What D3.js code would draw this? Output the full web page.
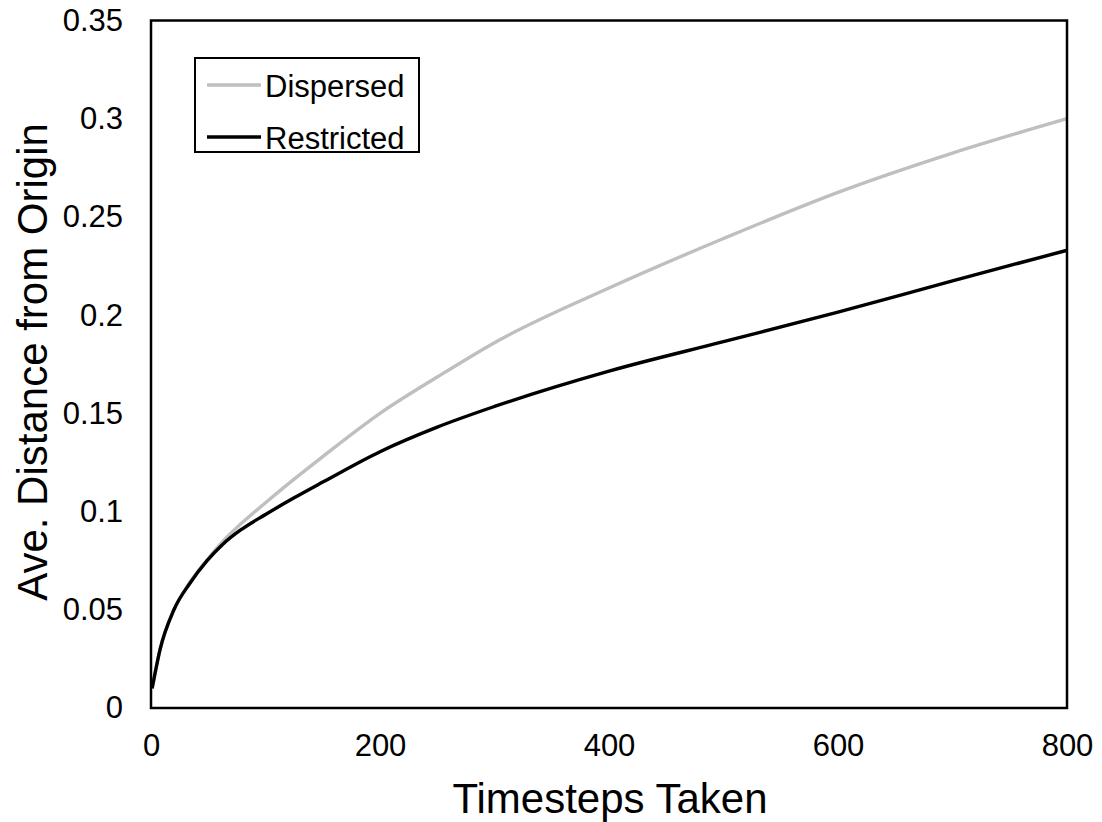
<!DOCTYPE html>
<html>
<head>
<meta charset="utf-8">
<script src="https://cdn.jsdelivr.net/npm/d3@7"></script>
<style>
  html, body { margin: 0; padding: 0; background: #fff; }
  svg { display: block; font-family: "Liberation Sans", Arial, sans-serif; }
</style>
</head>
<body>
<svg id="chart" width="1102" height="822"></svg>
<script>
// Timesteps sampled along both runs
const timesteps = [1, 8, 20, 34, 49, 63, 78, 100, 125, 150, 200, 250, 300, 400, 500, 600, 700, 800];

// Average distance from origin, dispersed population
const dispersed = [0.010, 0.030, 0.050, 0.064, 0.0755, 0.085, 0.0935, 0.1045, 0.1165, 0.128, 0.150, 0.1685, 0.186, 0.2138, 0.239, 0.2625, 0.2825, 0.300];

// Average distance from origin, restricted population
const restricted = [0.010, 0.030, 0.050, 0.0635, 0.075, 0.0835, 0.0905, 0.0985, 0.107, 0.115, 0.1305, 0.143, 0.1535, 0.1715, 0.1865, 0.2015, 0.2175, 0.233];

const xTicks = [0, 200, 400, 600, 800];
const yTicks = [0, 0.05, 0.1, 0.15, 0.2, 0.25, 0.3, 0.35];

const seriesNames = ["Dispersed", "Restricted"];
const seriesColors = ["#bfbfbf", "#000000"];

const svg = d3.select("#chart");
const plot = { left: 151, top: 20.5, right: 1067, bottom: 708 };

const x = d3.scaleLinear().domain([0, 800]).range([plot.left, plot.right]);
const y = d3.scaleLinear().domain([0, 0.35]).range([plot.bottom, plot.top]);

// Y axis tick labels
svg.append("g")
  .attr("transform", `translate(${plot.left},0)`)
  .call(d3.axisLeft(y).tickValues(yTicks).tickSize(0).tickPadding(28)
    .tickFormat(d => d === 0 ? "0" : String(+d.toFixed(2))))
  .call(g => g.select(".domain").remove())
  .selectAll("text")
  .attr("font-size", 31)
  .attr("fill", "#000")
  .attr("font-family", "Liberation Sans, Arial, sans-serif");

// X axis tick labels
svg.append("g")
  .attr("transform", `translate(0,${plot.bottom})`)
  .call(d3.axisBottom(x).tickValues(xTicks).tickSize(0).tickPadding(26).tickFormat(d3.format("d")))
  .call(g => g.select(".domain").remove())
  .selectAll("text")
  .attr("font-size", 31)
  .attr("fill", "#000")
  .attr("font-family", "Liberation Sans, Arial, sans-serif");

// Series lines
const line = d3.line().curve(d3.curveMonotoneX);
const series = [dispersed, restricted];
series.forEach((vals, i) => {
  svg.append("path")
    .attr("d", line(timesteps.map((t, j) => [x(t), y(vals[j])])))
    .attr("fill", "none")
    .attr("stroke", seriesColors[i])
    .attr("stroke-width", 3.4)
    .attr("stroke-linecap", "butt")
    .attr("stroke-linejoin", "round");
});

// Plot frame
svg.append("rect")
  .attr("x", plot.left).attr("y", plot.top)
  .attr("width", plot.right - plot.left).attr("height", plot.bottom - plot.top)
  .attr("fill", "none").attr("stroke", "#000").attr("stroke-width", 2.5);

// Legend
const legend = svg.append("g");
legend.append("rect")
  .attr("x", 195).attr("y", 58).attr("width", 224).attr("height", 94)
  .attr("fill", "#fff").attr("stroke", "#000").attr("stroke-width", 2);
seriesNames.forEach((name, i) => {
  const cy = 85 + i * 52;
  legend.append("line")
    .attr("x1", 207).attr("x2", 261).attr("y1", cy).attr("y2", cy)
    .attr("stroke", seriesColors[i]).attr("stroke-width", 3.4);
  legend.append("text")
    .attr("x", 265).attr("y", cy + 11.5)
    .attr("font-size", 31).attr("fill", "#000")
    .text(name);
});

// Axis titles
svg.append("text")
  .attr("x", 610).attr("y", 813)
  .attr("text-anchor", "middle").attr("font-size", 42).attr("fill", "#000")
  .text("Timesteps Taken");

svg.append("text")
  .attr("transform", "translate(47,362) rotate(-90)")
  .attr("text-anchor", "middle").attr("font-size", 42).attr("fill", "#000")
  .text("Ave. Distance from Origin");
</script>
</body>
</html>
